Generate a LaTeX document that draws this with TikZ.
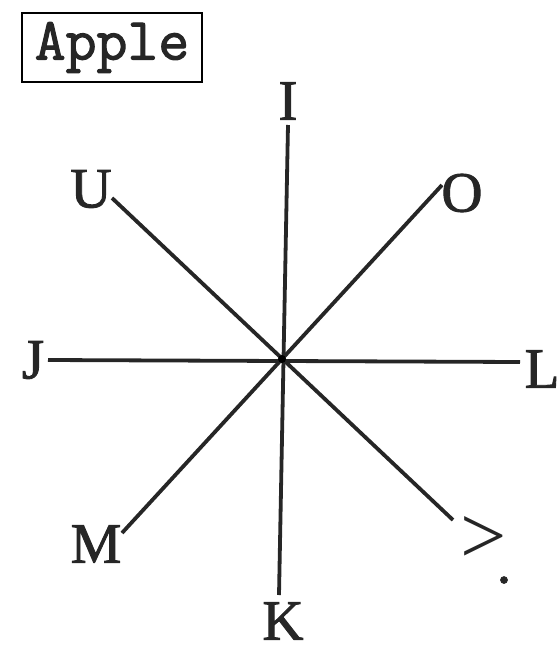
\documentclass[tikz,border=0pt]{standalone}
\usepackage{fontspec}
\setmainfont{Liberation Serif}
\newfontfamily\labelfont[FakeBold=1.6]{Liberation Serif}
\newfontfamily\titlefont[FakeBold=1.8]{Latin Modern Mono}

\begin{document}
\begin{tikzpicture}[x=1pt,y=-1pt]
    \tikzset{
        spokestyle/.style={line width=3.8pt, black!85},
        labelstyle/.style={font=\labelfont\fontsize{57}{60}\selectfont, inner sep=0pt, text=black!85},
        bigsign/.style={font=\fontsize{82}{86}\selectfont, inner sep=0pt, text=black!85},
        titlestyle/.style={draw, line width=2.5pt, minimum width=180pt, minimum height=69pt, inner sep=0pt, text=black!85, font=\titlefont\fontsize{60}{64}\selectfont}
    }
    \useasboundingbox (0,0) rectangle (560,646);

    % --- TITRE ---
    \node[titlestyle] (title) at (112,47.5) {Apple};

    % --- ETIQUETTES ---
    \node[labelstyle] (I) at (288,101) {I};
    \node[labelstyle] (U) at (91,189) {U};
    \node[labelstyle] (O) at (462,193) {O};
    \node[labelstyle] (J) at (33,360) {J};
    \node[labelstyle] (L) at (542,369) {L};
    \node[labelstyle] (M) at (96,544) {M};
    \node[bigsign] (gt) at (484,540) {>};
    \node[labelstyle] (dot) at (504,580) {.};
    \node[labelstyle] (K) at (283,621) {K};

    % --- EXTREMITES DES RAYONS ---
    \coordinate (c) at (282,359);
    \coordinate (I-end) at (288,125);
    \coordinate (K-end) at (279,595);
    \coordinate (J-end) at (48,360);
    \coordinate (L-end) at (520,362);
    \coordinate (U-end) at (112,198);
    \coordinate (gt-end) at (453,520);
    \coordinate (O-end) at (442,185);
    \coordinate (M-end) at (122,533);

    % --- RAYONS ---
    \draw[spokestyle] (I-end) -- (K-end);
    \draw[spokestyle] (J-end) -- (L-end);
    \draw[spokestyle] (U-end) -- (gt-end);
    \draw[spokestyle] (O-end) -- (M-end);
    \fill[black] (c) circle (4pt);
\end{tikzpicture}
\end{document}
